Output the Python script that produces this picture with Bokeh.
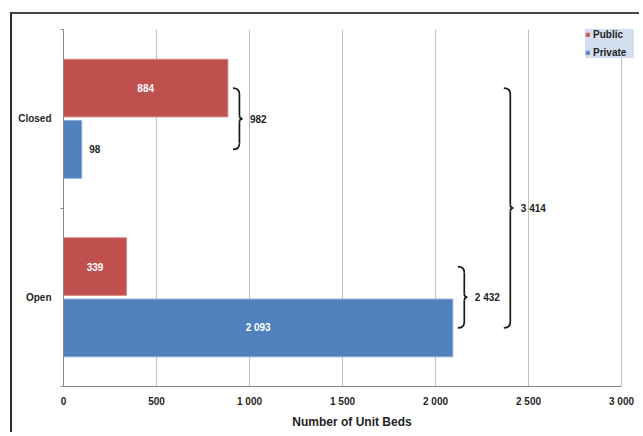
from bokeh.plotting import figure
from bokeh.models import Range1d, FixedTicker, Legend, LegendItem
from bokeh.core.properties import value
from bokeh.embed import file_html
from bokeh.resources import INLINE

# ---------------- data ----------------
categories = ["Closed", "Open"]
series_names = ["Public", "Private"]
public = [884, 339]
private = [98, 2093]
x_ticks = [0, 500, 1000, 1500, 2000, 2500, 3000]
x_tick_labels = ["0", "500", "1 000", "1 500", "2 000", "2 500", "3 000"]
x_title = "Number of Unit Beds"

# ---------------- style ----------------
RED = "#C0504D"
RED_EDGE = "#D38B89"
BLUE = "#4F81BD"
BLUE_EDGE = "#86A8D6"
FONT = "Liberation Sans"
TXT = "#1f1f1f"
AXIS = "#868686"
GRID = "#C0C0C0"

W, H = 629, 420
ML, MR, MT, MB = 51, 1, 15, 48
AXIS_PX = 558                 # pixels spanned by the 0..max tick range
FW = W - ML - MR
FH = H - MT - MB
XMAX = x_ticks[-1]
n = len(categories)
xpp = XMAX / AXIS_PX          # data units per pixel (x)
ypp = n / FH                  # data units per pixel (y)
XEND = FW * xpp


def fmt(v):
    return "{:,}".format(v).replace(",", " ")


cat_y = [n - i - 0.5 for i in range(n)]
OFF = 0.172
BH = 0.323
pub_y = [y + OFF for y in cat_y]
pri_y = [y - OFF for y in cat_y]

p = figure(width=W, height=H, x_range=Range1d(0, XEND), y_range=Range1d(0, n),
           output_backend="svg", toolbar_location=None,
           min_border_left=ML, min_border_right=MR, min_border_top=MT, min_border_bottom=MB)
p.margin = (12, 0, 0, 10)
p.styles = {"border-left": "2px solid #2e2e2e", "border-top": "2px solid #474747"}
p.outline_line_color = None
p.background_fill_color = "white"
p.border_fill_color = "white"

# grid
p.xgrid.ticker = FixedTicker(ticks=x_ticks)
p.xgrid.grid_line_color = GRID
p.ygrid.grid_line_color = None

# bars
r_pub = p.hbar(y=pub_y, left=0, right=public, height=BH,
               fill_color=RED, line_color=RED_EDGE, line_width=1)
r_pri = p.hbar(y=pri_y, left=0, right=private, height=BH,
               fill_color=BLUE, line_color=BLUE_EDGE, line_width=1)

# bar labels
in_x, in_y, in_t = [], [], []
out_x, out_y, out_t = [], [], []
for vals, ys in ((public, pub_y), (private, pri_y)):
    for v, y in zip(vals, ys):
        if v / xpp > 40:
            in_x.append(v / 2); in_y.append(y); in_t.append(fmt(v))
        else:
            out_x.append(v); out_y.append(y); out_t.append(fmt(v))
p.text(x=in_x, y=in_y, text=in_t, text_color="white", text_align="center",
       text_baseline="middle", text_font=value(FONT), text_font_style="bold",
       text_font_size="10px")
p.text(x=out_x, y=out_y, text=out_t, text_color=TXT, text_align="left",
       text_baseline="middle", x_offset=7.5, text_font=value(FONT),
       text_font_style="bold", text_font_size="10px")

# braces
bx0, by0, bx1, by1, bcx, bcy = [], [], [], [], [], []
sx0, sy0, sx1, sy1 = [], [], [], []
lab_x, lab_y, lab_t = [], [], []


def brace(x0, ytop, ybot, total):
    xa = x0 + 6.5 * xpp
    xt = x0 + 9.5 * xpp
    ym = (ytop + ybot) / 2
    r = 6 * ypp
    th = 3.5 * ypp
    for (a, b, c, d, e, f) in (
        (x0, ytop, xa, ytop - r, xa, ytop),
        (xa, ym + th, xt, ym, xa, ym),
        (xa, ym - th, xt, ym, xa, ym),
        (x0, ybot, xa, ybot + r, xa, ybot),
    ):
        bx0.append(a); by0.append(b); bx1.append(c); by1.append(d); bcx.append(e); bcy.append(f)
    sx0.extend([xa, xa]); sy0.extend([ytop - r, ym - th])
    sx1.extend([xa, xa]); sy1.extend([ym + th, ybot + r])
    lab_x.append(x0 + 17 * xpp); lab_y.append(ym); lab_t.append(fmt(total))


for i in range(n):
    brace(max(public[i], private[i]) + 5 * xpp, pub_y[i], pri_y[i], public[i] + private[i])
brace(max(public + private) + 51 * xpp, pub_y[0], pri_y[-1], sum(public) + sum(private))

p.quadratic(x0=bx0, y0=by0, x1=bx1, y1=by1, cx=bcx, cy=bcy,
            line_color="#1a1a1a", line_width=1.7)
p.segment(x0=sx0, y0=sy0, x1=sx1, y1=sy1, line_color="#1a1a1a", line_width=1.7)
p.text(x=lab_x, y=lab_y, text=lab_t, text_color=TXT, text_align="left",
       text_baseline="middle", text_font=value(FONT), text_font_style="bold",
       text_font_size="10px")

# axes
xa_ = p.xaxis[0]
xa_.ticker = FixedTicker(ticks=x_ticks)
xa_.bounds = (x_ticks[0], x_ticks[-1])
xa_.major_label_overrides = {t: l for t, l in zip(x_ticks, x_tick_labels)}
xa_.axis_line_color = AXIS
xa_.major_tick_out = 0
xa_.major_tick_in = 0
xa_.minor_tick_out = 0
xa_.minor_tick_in = 0
xa_.major_label_standoff = 9
xa_.major_label_text_font = FONT
xa_.major_label_text_font_style = "bold"
xa_.major_label_text_font_size = "10px"
xa_.major_label_text_color = TXT
xa_.axis_label = x_title
xa_.axis_label_text_font = FONT
xa_.axis_label_text_font_style = "bold"
xa_.axis_label_text_font_size = "12px"
xa_.axis_label_text_color = TXT
xa_.axis_label_standoff = 5

ya_ = p.yaxis[0]
ya_.ticker = FixedTicker(ticks=cat_y, minor_ticks=list(range(n + 1)))
ya_.major_label_overrides = {y: c for y, c in zip(cat_y, categories)}
ya_.axis_line_color = AXIS
ya_.major_tick_out = 0
ya_.major_tick_in = 0
ya_.minor_tick_out = 3
ya_.minor_tick_in = 0
ya_.minor_tick_line_color = AXIS
ya_.major_label_standoff = 9
ya_.major_label_text_font = FONT
ya_.major_label_text_font_style = "bold"
ya_.major_label_text_font_size = "10px"
ya_.major_label_text_color = TXT

# legend
legend = Legend(items=[LegendItem(label=series_names[0], renderers=[r_pub]),
                       LegendItem(label=series_names[1], renderers=[r_pri])],
                location=(522, 328))
legend.glyph_width = 5
legend.glyph_height = 5
legend.label_standoff = 3
legend.padding = 3
legend.spacing = 6
legend.label_height = 12
legend.label_width = 41
legend.margin = 0
legend.background_fill_color = "#D3DFEE"
legend.background_fill_alpha = 1
legend.border_line_color = None
legend.label_text_font = FONT
legend.label_text_font_style = "bold"
legend.label_text_font_size = "10px"
legend.label_text_color = TXT
p.add_layout(legend)

open("out.html", "w").write(file_html(p, INLINE))
